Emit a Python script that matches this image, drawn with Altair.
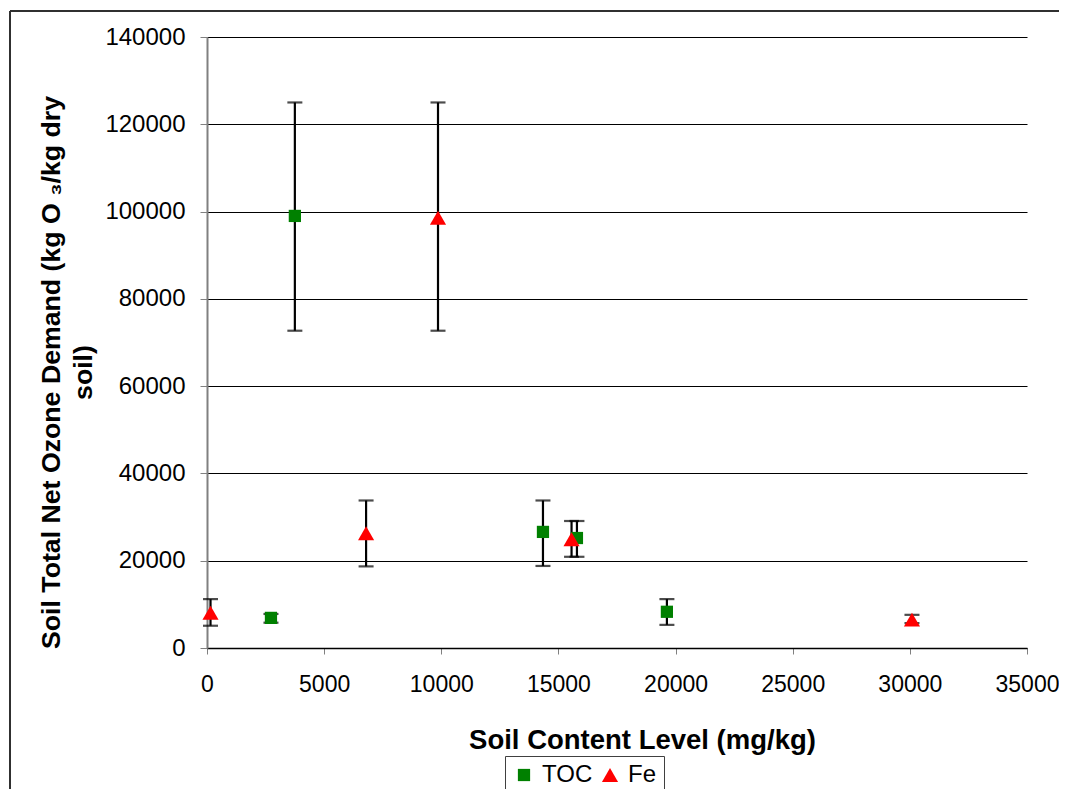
import altair as alt
import pandas as pd

# ---- data ----
toc_x = [2730, 3750, 14340, 15790, 19630]
toc_y = [6900, 99000, 26600, 25200, 8300]
toc_lo = [5800, 72700, 18800, 20900, 5300]
toc_hi = [7800, 125000, 33800, 29100, 11200]

fe_x = [150, 6790, 9860, 15560, 30090]
fe_y = [8100, 26300, 98600, 24900, 6500]
fe_lo = [5100, 18700, 72700, 20900, 5700]
fe_hi = [11200, 33800, 125000, 29100, 7600]

series = ["TOC", "Fe"]
x_ticks = [0, 5000, 10000, 15000, 20000, 25000, 30000, 35000]
y_ticks = [0, 20000, 40000, 60000, 80000, 100000, 120000, 140000]

rows = []
for name, xs, ys, los, his in [("TOC", toc_x, toc_y, toc_lo, toc_hi),
                               ("Fe", fe_x, fe_y, fe_lo, fe_hi)]:
    for a, b, c, d in zip(xs, ys, los, his):
        rows.append({"series": name, "x": a, "y": b, "lo": c, "hi": d})
df = pd.DataFrame(rows)

FONT = "Liberation Sans"

xsc = alt.Scale(domain=[0, 35000], nice=False)
ysc = alt.Scale(domain=[0, 140000], nice=False)

base = alt.Chart(df)

xenc = alt.X("x:Q", scale=xsc,
             axis=alt.Axis(values=x_ticks, format="d", grid=False,
                           labelFlush=False, labelOverlap=False,
                           labelFontSize=23,
                           title="Soil Content Level (mg/kg)",
                           titleFontSize=27.5, titleBaseline="alphabetic",
                           titleY=100, titleX=435,
                           labelPadding=19, tickSize=6, tickColor="#808080",
                           domainColor="#000000", domainWidth=1.5))
yenc = alt.Y("y:Q", scale=ysc,
             axis=alt.Axis(values=y_ticks, format="d", grid=True,
                           labelOverlap=False, labelFontSize=24,
                           gridColor="#000000", gridWidth=1.2,
                           title=["Soil Total Net Ozone Demand (kg O \u2083/kg dry", "soil)"],
                           titleFontSize=26.7,
                           titleX=-148, titleY=335, titleLineHeight=32,
                           titleAlign="center", titleBaseline="alphabetic",
                           labelPadding=15, tickSize=7, tickColor="#808080",
                           domainColor="#808080", domainWidth=2))

err = base.mark_rule(color="black", strokeWidth=2.2).encode(
    x=alt.X("x:Q", scale=xsc), y=alt.Y("lo:Q", scale=ysc), y2="hi:Q")
cap_lo = base.mark_tick(orient="horizontal", color="black", size=15, thickness=2.2).encode(
    x=alt.X("x:Q", scale=xsc), y=alt.Y("lo:Q", scale=ysc))
cap_hi = base.mark_tick(orient="horizontal", color="black", size=15, thickness=2.2).encode(
    x=alt.X("x:Q", scale=xsc), y=alt.Y("hi:Q", scale=ysc))

pts = base.mark_point(filled=True, opacity=1).encode(
    x=xenc, y=yenc,
    color=alt.Color("series:N", scale=alt.Scale(domain=series, range=["#008000", "#ff0000"]),
                    legend=alt.Legend(title=None, orient="none", direction="horizontal",
                                      legendX=298, legendY=719, padding=7,
                                      strokeColor="#404040",
                                      labelFont=FONT, labelFontSize=24, labelColor="black",
                                      symbolSize=140, symbolStrokeWidth=0,
                                      columnPadding=5, labelOffset=6)),
    shape=alt.Shape("series:N", scale=alt.Scale(domain=series, range=["square", "triangle-up"])),
    size=alt.Size("series:N", scale=alt.Scale(domain=series, range=[150, 260]), legend=None),
)

frame_left = alt.Chart(df).mark_rule(color="#303030", strokeWidth=2).encode(
    x=alt.value(-197), y=alt.value(-26), y2=alt.value(780))
frame_top = alt.Chart(df).mark_rule(color="#303030", strokeWidth=2).encode(
    x=alt.value(-197), x2=alt.value(880), y=alt.value(-26))

chart = alt.layer(err, cap_lo, cap_hi, pts, frame_left, frame_top).properties(
    width=820, height=611,
    autosize=alt.AutoSizeParams(type="none"),
    padding={"left": 199, "top": 29, "right": 32, "bottom": 141},
).configure_view(stroke=None).configure_axis(
    labelFont=FONT, labelColor="black",
    titleFont=FONT, titleFontWeight="bold", titleColor="black",
)

chart.save("out.html", embed_options={"renderer": "svg", "actions": False})
